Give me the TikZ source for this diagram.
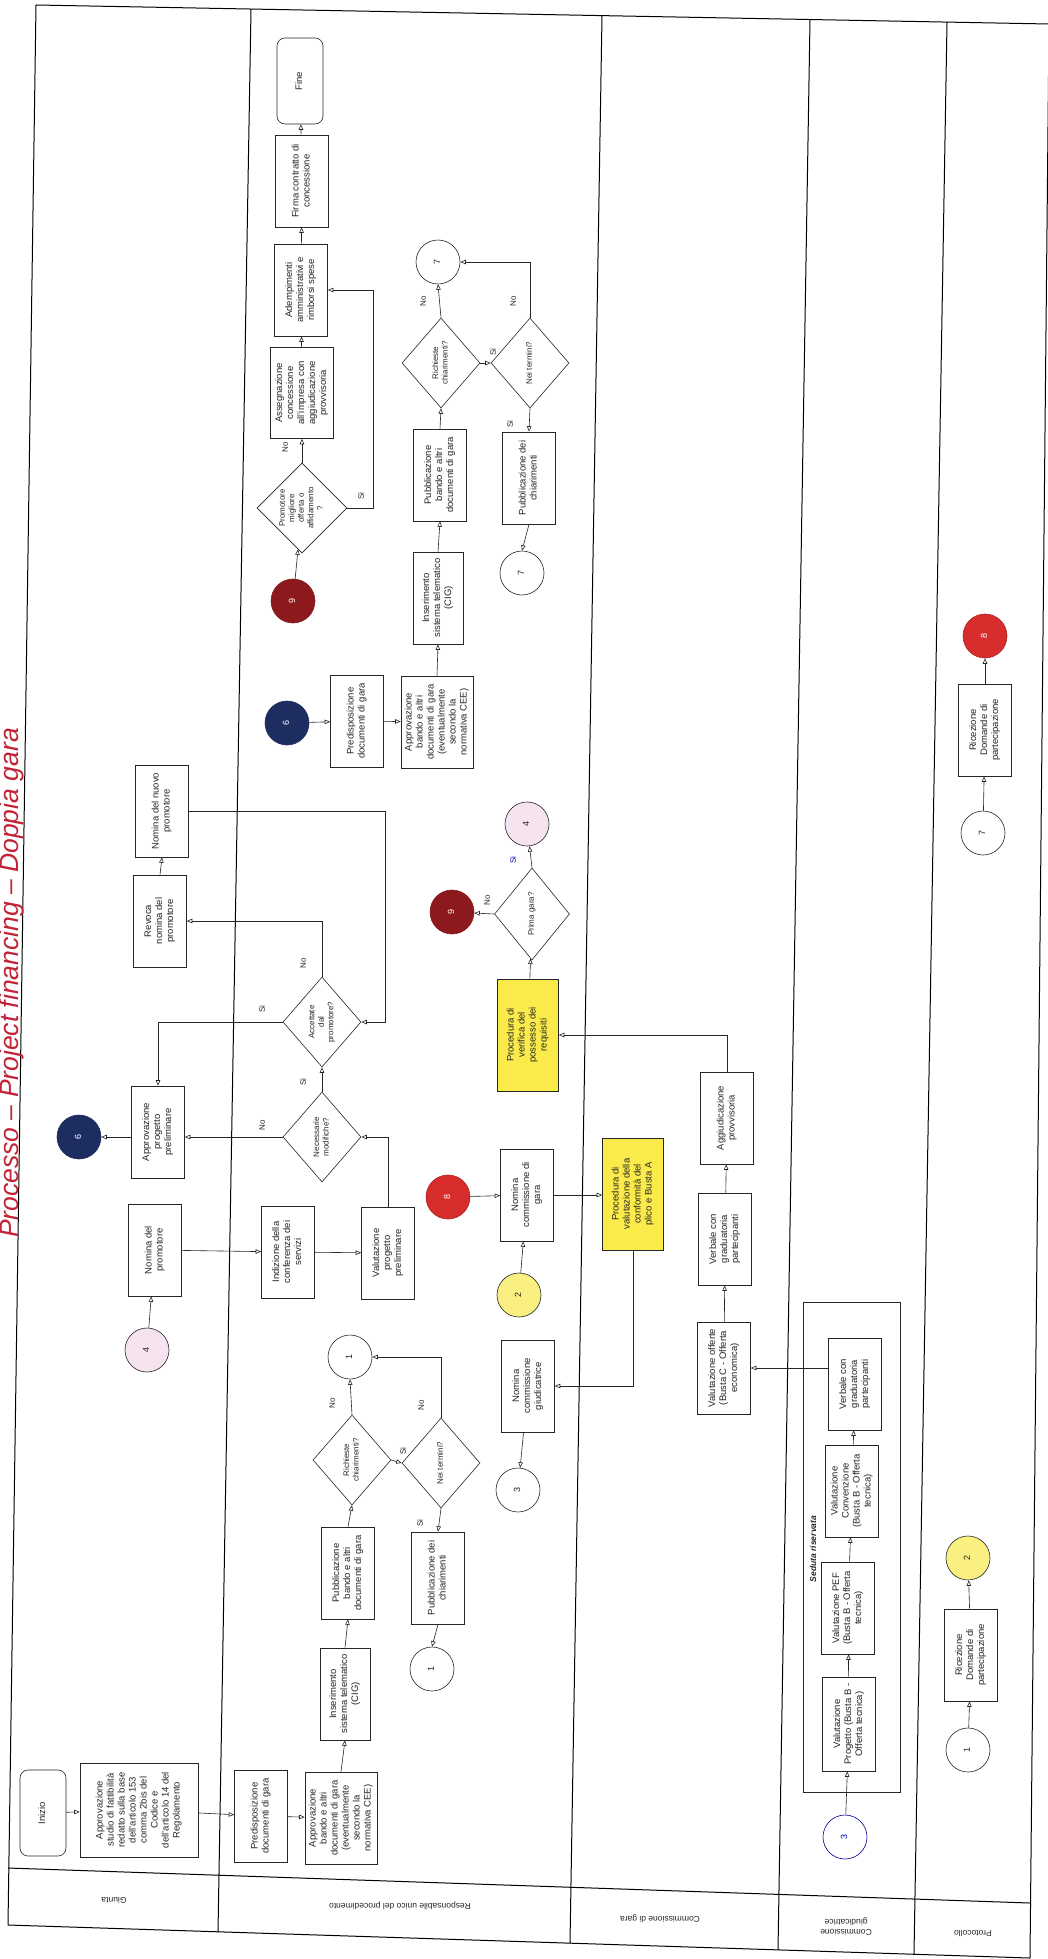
\documentclass[tikz,border=0pt]{standalone}
\usepackage{fontspec}
\setmainfont{Liberation Sans}
\usepackage{graphicx}
\usetikzlibrary{shapes.geometric,arrows.meta,calc}
\newcommand{\rt}[1]{\rotatebox{90}{\begin{tabular}{@{}c@{}}#1\end{tabular}}}
\newcommand{\rb}[1]{\rotatebox{180}{\begin{tabular}{@{}c@{}}#1\end{tabular}}}
\definecolor{navysix}{RGB}{30,45,95}
\definecolor{redeight}{RGB}{215,45,45}
\definecolor{rednine}{RGB}{140,25,30}
\definecolor{yeltwo}{RGB}{250,240,130}
\definecolor{pinkfour}{RGB}{245,228,240}
\definecolor{yelbox}{RGB}{250,235,75}
\definecolor{titlered}{RGB}{195,35,55}
\begin{document}
\begin{tikzpicture}[x=1pt,y=-1pt,
  every node/.style={text=black!85},
  box/.style={draw=black!85, line width=0.6pt, fill=white, inner sep=0pt,
    minimum width=53pt, minimum height=92pt, font=\fontsize{9.5}{11}\selectfont},
  wbox/.style={box, minimum width=72pt},
  rbox/.style={box, rounded corners=8pt, minimum width=46pt, minimum height=86pt},
  ybox/.style={box, fill=yelbox, minimum width=61pt, minimum height=112pt},
  dia/.style={diamond, draw=black!85, line width=0.6pt, fill=white, inner sep=0pt,
    minimum width=78pt, minimum height=90pt, font=\fontsize{8}{9.5}\selectfont},
  circ/.style={circle, draw=black!85, line width=0.6pt, fill=white, inner sep=0pt,
    minimum size=44pt, font=\fontsize{9}{10}\selectfont},
  arr/.style={draw=black!85, line width=0.6pt, -{Triangle[open,length=5.5pt,width=4.5pt]}},
  lbl/.style={inner sep=0pt, font=\fontsize{8}{9}\selectfont},
  lane/.style={line width=1pt, black},
  lanelbl/.style={inner sep=0pt, font=\fontsize{8.5}{10}\selectfont}
]
\useasboundingbox (0,0) rectangle (1048,1959);
\fill[white] (0,0) rectangle (1048,1959);

% ---------- lanes ----------
\draw[lane] (36,5) -- (1049,24);
\draw[lane] (8,1868) -- (1030,1903);
\draw[lane] (8,1925) -- (1030,1958);
\draw[lane] (36,5) -- (8,1925);
\draw[lane] (251,9) -- (218,1932);
\draw[lane] (602,16) -- (570,1943);
\draw[lane] (810,20) -- (778,1950);
\draw[lane] (947,22) -- (914,1954);
\draw[lane] (1049,24) -- (1030,1958);

\node[lanelbl] (lg) at (114,1899) {\rb{Giunta}};
\node[lanelbl] (lr) at (400,1905) {\rb{Responsabile unico del procedimento}};
\node[lanelbl] (lc) at (660,1918) {\rb{Commissione di gara}};
\node[lanelbl] (lj) at (846,1926) {\rb{Commissione\\giudicatrice}};
\node[lanelbl] (lp) at (973,1932) {\rb{Protocollo}};

% title
\node[inner sep=0pt, text=titlered, font=\fontsize{26.5}{30}\selectfont\itshape] (title) at (12,983)
  {\rotatebox{90}{Processo -- Project financing -- Doppia gara}};

% ---------- Giunta ----------
\node[rbox] (inizio) at (43,1813) {\rt{Inizio}};
\node[box, minimum width=118pt, minimum height=94pt] (studio) at (139,1810)
  {\rt{Approvazione\\studio di fattibilità\\redatto sulla base\\dell'articolo 153\\comma 2bis del\\Codice e\\dell'articolo 14 del\\Regolamento}};
\node[box] (nomnuovo) at (162,811) {\rt{Nomina del nuovo\\promotore}};
\node[box] (revoca) at (160,921) {\rt{Revoca\\nomina del\\promotore}};
\node[box] (approvprog) at (158,1132) {\rt{Approvazione\\progetto\\preliminare}};
\node[circ, fill=navysix, draw=navysix, text=white] (sixg) at (79,1137) {\rt{6}};
\node[box] (nomprom) at (155,1250) {\rt{Nomina del\\promotore}};
\node[circ, fill=pinkfour] (fourg) at (147,1350) {\rt{4}};

% ---------- RUP bottom ----------
\node[box] (predispA) at (261,1816) {\rt{Predisposizione\\documenti di gara}};
\node[wbox] (approvbA) at (341,1818) {\rt{Approvazione\\bando e altri\\documenti di gara\\(eventualmente\\secondo la\\normativa CEE)}};
\node[box, minimum width=50pt] (inserA) at (345,1694) {\rt{Inserimento\\sistema telematico\\(CIG)}};
\node[box] (pubbA) at (348,1573) {\rt{Pubblicazione\\bando e altri\\documenti di gara}};
\node[dia] (richA) at (352,1460) {\rt{Richieste\\chiarimenti?}};
\node[dia] (termA) at (441,1463) {\rt{Nei termini?}};
\node[box] (pubchA) at (438,1578) {\rt{Pubblicazione dei\\chiarimenti}};
\node[circ] (cunoA) at (350,1357) {\rt{1}};
\node[circ] (cunoB) at (432,1669) {\rt{1}};

\node[box] (indiz) at (288,1252) {\rt{Indizione della\\conferenza dei\\servizi}};
\node[box] (valprog) at (388,1253) {\rt{Valutazione\\progetto\\preliminare}};
\node[dia] (necess) at (322,1137) {\rt{Necessarie\\modifiche?}};
\node[dia] (accett) at (322,1022) {\rt{Accettate\\dal\\promotore?}};

\node[circ, fill=redeight, draw=redeight!80!black, text=white] (redeightr) at (448,1197) {\rt{8}};
\node[box] (nomcg) at (527,1195) {\rt{Nomina\\commissione di\\gara}};
\node[circ, fill=yeltwo] (yeltwor) at (519,1295) {\rt{2}};
\node[box] (nomgiud) at (528,1386) {\rt{Nomina\\commissione\\giudicatrice}};
\node[circ] (ctrer) at (518,1490) {\rt{3}};

\node[ybox] (procver) at (528,1035) {\rt{Procedura di\\verifica del\\possesso dei\\requisiti}};
\node[dia, minimum width=75pt, minimum height=92pt] (prima) at (532,914) {\rt{Prima gara?}};
\node[circ, fill=rednine, draw=rednine, text=white] (redninem) at (452,912) {\rt{9}};
\node[circ, fill=pinkfour] (pinkfourm) at (527,824) {\rt{4}};

% ---------- RUP top ----------
\node[rbox] (fine) at (300,81) {\rt{Fine}};
\node[box] (firma) at (302,181) {\rt{Firma contratto di\\concessione}};
\node[box] (ademp) at (301,290) {\rt{Adempimenti\\amministrativi e\\rimborsi spese}};
\node[box, minimum width=63pt, minimum height=91pt] (assegn) at (302,393) {\rt{Assegnazione\\concessione\\all'impresa con\\aggiudicazione\\provvisoria}};
\node[dia, minimum width=90pt, minimum height=90pt] (promot) at (302,508) {\rt{Promotore\\migliore\\offerta o\\affidamento\\?}};
\node[circ, fill=rednine, draw=rednine, text=white] (reddninet) at (293,601) {\rt{9}};
\node[circ] (csetteT) at (438,262) {\rt{7}};
\node[dia] (richB) at (441,363) {\rt{Richieste\\chiarimenti?}};
\node[dia] (termB) at (530,363) {\rt{Nei termini?}};
\node[box] (pubbB) at (440,475) {\rt{Pubblicazione\\bando e altri\\documenti di gara}};
\node[box] (pubchB) at (529,478) {\rt{Pubblicazione dei\\chiarimenti}};
\node[circ] (csetteB) at (522,573) {\rt{7}};
\node[box, minimum width=50pt] (inserB) at (438,598) {\rt{Inserimento\\sistema telematico\\(CIG)}};
\node[wbox] (approvbB) at (437,722) {\rt{Approvazione\\bando e altri\\documenti di gara\\(eventualmente\\secondo la\\normativa CEE)}};
\node[box] (predispB) at (357,721) {\rt{Predisposizione\\documenti di gara}};
\node[circ, fill=navysix, draw=navysix, text=white] (sixr) at (287,723) {\rt{6}};

% ---------- Commissione di gara ----------
\node[ybox] (procval) at (633,1194) {\rt{Procedura di\\valutazione della\\conformità del\\plico e Busta A}};
\node[box] (aggiud) at (727,1118) {\rt{Aggiudicazione\\provvisoria}};
\node[box] (verbale) at (725,1239) {\rt{Verbale con\\graduatoria\\partecipanti}};
\node[box] (valoff) at (724,1368) {\rt{Valutazione offerte\\(Busta C - Offerta\\economica)}};

% ---------- Commissione giudicatrice ----------
\node[draw=black!85, line width=0.7pt, minimum width=97pt, minimum height=490pt, inner sep=0pt] (seduta) at (851.5,1547) {};
\node[inner sep=0pt, font=\fontsize{8.5}{10}\selectfont\bfseries\itshape] (sedutalbl) at (813,1549) {\rotatebox{90}{Seduta riservata}};
\node[box] (verbB) at (855,1384) {\rt{Verbale con\\graduatoria\\partecipanti}};
\node[box] (valconv) at (852,1491) {\rt{Valutazione\\Convenzione\\(Busta B - Offerta\\tecnica)}};
\node[box] (valpef) at (848,1608) {\rt{Valutazione PEF\\(Busta B - Offerta\\tecnica)}};
\node[box, minimum height=94pt] (valproj) at (849,1724) {\rt{Valutazione\\Progetto (Busta B -\\Offerta tecnica)}};
\node[circ, draw=blue!60!black, text=blue!70!black] (ctrej) at (845,1837) {\rt{3}};

% ---------- Protocollo ----------
\node[circ, fill=redeight, draw=redeight!80!black, text=white] (redeightp) at (985,636) {\rt{8}};
\node[box] (ricezB) at (985,730) {\rt{Ricezione\\Domande di\\partecipazione}};
\node[circ] (csetteP) at (983,833) {\rt{7}};
\node[circ, fill=yeltwo] (yeltwop) at (968,1558) {\rt{2}};
\node[box] (ricezA) at (971,1655) {\rt{Ricezione\\Domande di\\partecipazione}};
\node[circ] (cunoP) at (968,1750) {\rt{1}};

% ---------- connectors ----------
\draw[arr] (inizio) -- (studio);
\draw[arr] (studio) -- (predispA);
\draw[arr] (predispA) -- (approvbA);
\draw[arr] (approvbA.north) -- (inserA.south);
\draw[arr] (inserA.north) -- (pubbA.south);
\draw[arr] (pubbA.north) -- (richA.south);
\draw[arr] (richA.north) -- (cunoA.south);
\draw[arr] (richA.east) -- (termA.west);
\draw[arr] (termA.north) |- (cunoA.east);
\draw[arr] (termA.south) -- (pubchA.north);
\draw[arr] (pubchA.south) -- (cunoB.north);
\node[lbl] at (333,1403) {\rt{No}};
\node[lbl] at (422,1405) {\rt{No}};
\node[lbl] at (404,1451) {\rt{Si}};
\node[lbl] at (421,1523) {\rt{Si}};

\draw[arr] (fourg) -- (nomprom);
\draw[arr] (nomprom) -- (indiz);
\draw[arr] (indiz) -- (valprog);
\draw[arr] (valprog.north) |- (necess.east);
\draw[arr] (necess.west) -- (approvprog.east |- necess.west);
\draw[arr] (necess.north) -- (accett.south);
\draw[arr] (accett.west) -| (approvprog.north);
\draw[arr] (accett.north) |- (revoca.east);
\draw[arr] (revoca.north) -- (nomnuovo.south);
\draw[arr] (nomnuovo.east) -| ($(accett.east)+(24,0)$) -- (accett.east);
\draw[arr] (approvprog.west |- sixg) -- (sixg.east);
\node[lbl] at (263,1125) {\rt{No}};
\node[lbl] at (304,1082) {\rt{Si}};
\node[lbl] at (263,1009) {\rt{Si}};
\node[lbl] at (304,963) {\rt{No}};

\draw[arr] (redeightr) -- (nomcg);
\draw[arr] (yeltwor) -- (nomcg);
\draw[arr] (nomcg.east) -- (procval.west |- nomcg.east);
\draw[arr] (procval.south) |- (nomgiud.east);
\draw[arr] (nomgiud) -- (ctrer);

\draw[arr] (ctrej) -- (valproj);
\draw[arr] (valproj) -- (valpef);
\draw[arr] (valpef) -- (valconv);
\draw[arr] (valconv) -- (verbB);
\draw[arr] (verbB.west |- valoff.east) -- (valoff.east);
\draw[arr] (valoff) -- (verbale);
\draw[arr] (verbale) -- (aggiud);
\draw[arr] (aggiud.north) |- (procver.east);
\draw[arr] (procver) -- (prima);
\draw[arr] (prima.north) -- (pinkfourm);
\draw[arr] (prima.west) -- (redninem);
\node[lbl, text=blue!70!black] at (514,860) {\rt{Si}};
\node[lbl] at (488,900) {\rt{No}};

\draw[arr] (cunoP) -- (ricezA);
\draw[arr] (ricezA) -- (yeltwop);
\draw[arr] (csetteP) -- (ricezB);
\draw[arr] (ricezB) -- (redeightp);

\draw[arr] (sixr) -- (predispB);
\draw[arr] (predispB) -- (approvbB);
\draw[arr] (approvbB.north) -- (inserB.south);
\draw[arr] (inserB.north) -- (pubbB.south);
\draw[arr] (pubbB.north) -- (richB.south);
\draw[arr] (richB.north) -- (csetteT.south);
\draw[arr] (richB.east) -- (termB.west);
\draw[arr] (termB.north) |- (csetteT.east);
\draw[arr] (termB.south) -- (pubchB.north);
\draw[arr] (pubchB.south) -- (csetteB.north);
\node[lbl] at (424,301) {\rt{No}};
\node[lbl] at (514,301) {\rt{No}};
\node[lbl] at (494,352) {\rt{Si}};
\node[lbl] at (511,424) {\rt{Si}};

\draw[arr] (reddninet) -- (promot);
\draw[arr] (promot.north) -- (assegn.south);
\draw[arr] (promot.east) -| ($(ademp.east)+(45,0)$) -- (ademp.east);
\draw[arr] (assegn) -- (ademp);
\draw[arr] (ademp) -- (firma);
\draw[arr] (firma) -- (fine);
\node[lbl] at (286,447) {\rt{No}};
\node[lbl] at (362,496) {\rt{Si}};
\end{tikzpicture}
\end{document}
